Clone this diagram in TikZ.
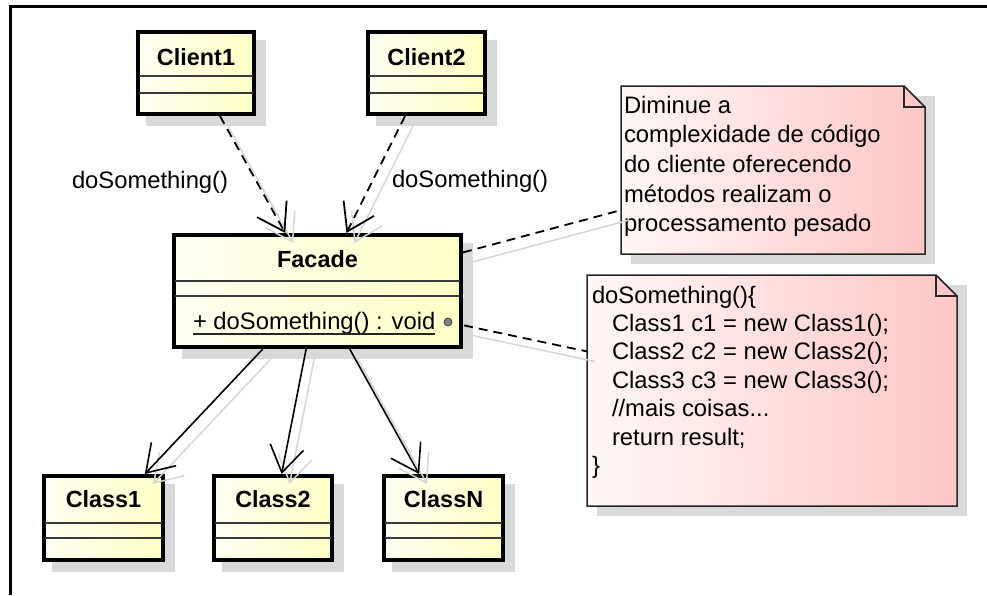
\documentclass[tikz,border=0pt]{standalone}
\usepackage{fontspec}
\setmainfont{Liberation Sans}
\usetikzlibrary{arrows.meta,calc,fit}

\definecolor{clsA}{HTML}{FFFFF2}
\definecolor{clsB}{HTML}{FFFFC6}
\definecolor{noteA}{HTML}{FFF7F7}
\definecolor{noteB}{HTML}{FFC6C6}
\definecolor{boxshade}{HTML}{D9D9D9}
\definecolor{ghost}{HTML}{D6D6D6}
\definecolor{compline}{HTML}{3A3A3A}

\tikzset{
  txt/.style={font=\fontsize{23.8}{28}\selectfont, inner sep=0pt, outer sep=0pt},
  boldtxt/.style={font=\fontsize{23.4}{28}\selectfont\bfseries, inner sep=0pt, outer sep=0pt},
  classbox/.style={draw=black, line width=4pt, inner sep=0pt, left color=clsA, right color=clsB},
  compart/.style={draw=compline, line width=1.5pt},
  notebody/.style={draw=black!85, line width=1.5pt, left color=noteA, right color=noteB},
  notefold/.style={draw=black!85, line width=1.5pt},
  plainnode/.style={inner sep=0pt, outer sep=0pt},
  barb/.style={-{Straight Barb[length=26pt,width=34pt]}},
  calls/.style={barb, draw=black, line width=1.8pt, dash pattern=on 9pt off 6pt},
  uses/.style={barb, draw=black, line width=1.6pt},
  anchorline/.style={draw=black, line width=1.8pt, dash pattern=on 9pt off 6pt},
  ghostline/.style={draw=ghost, line width=1.5pt},
  ghostbarb/.style={ghostline, -{Straight Barb[length=26pt,width=34pt]}},
  opdot/.style={circle, fill=black!50, draw=black!75, line width=0.8pt, minimum size=8pt, inner sep=0pt}
}

% class box: name, x1, y1, x2, y2, first divider, second divider, title, title baseline
\newcommand\ClassBox[9]{%
  \fill[boxshade] (#2+10,#3+10) rectangle (#4+10,#5+10);
  \node[classbox, fit={(#2+2,#3+2) (#4-2,#5-2)}] (#1) {};
  \draw[compart] (#2+3,#6) -- (#4-3,#6) (#2+3,#7) -- (#4-3,#7);
  \node[boldtxt, anchor=base] (#1-title) at ({(#2+#4)/2},#9) {#8};
}

% note with folded corner: name, x1, y1, x2, y2
\newcommand\NoteBox[5]{%
  \fill[boxshade] (#2+10,#3+10) rectangle (#4+10,#5+10);
  \node[plainnode, fit={(#2,#3) (#4,#5)}] (#1) {};
  \path[notebody] (#1.north west) -- ($(#1.north east)+(-21,0)$)
    -- ($(#1.north east)+(0,21)$) -- (#1.south east) -- (#1.south west) -- cycle;
  \draw[notefold] ($(#1.north east)+(-21,0)$) -- ($(#1.north east)+(-21,21)$)
    -- ($(#1.north east)+(0,21)$);
}

\begin{document}
\begin{tikzpicture}[x=1pt, y=-1pt]
\useasboundingbox (0,0) rectangle (987,595);

% frame edges of the diagram area
\draw[line width=3pt] (987,6.5) -- (10,6.5) -- (10,595);

% classes
\ClassBox{client1}{136}{30}{256}{116}{76}{93}{Client1}{65}
\ClassBox{client2}{366}{30}{487}{116}{76}{93}{Client2}{65}
\ClassBox{facade}{172}{233}{463}{349}{281}{296}{Facade}{267}
\ClassBox{class1}{42}{474}{165}{562}{523}{538}{Class1}{507}
\ClassBox{class2}{212}{474}{334}{562}{523}{538}{Class2}{507}
\ClassBox{classN}{382}{474}{505}{562}{523}{538}{ClassN}{507}

% static operation of the facade
\node[txt, anchor=base west] (op) at (193,329) {+ doSomething() : void};
\draw[line width=1.4pt, draw=black!85] ($(op.base west)+(0,5)$) -- ($(op.base east)+(0,5)$);
\node[opdot] (dot) at (448,322) {};

% notes
\NoteBox{note1}{621}{86}{925}{254}
\NoteBox{note2}{587}{275}{957}{506}

\foreach \line [count=\i from 0] in {Diminue a, complexidade de código,
    do cliente oferecendo, métodos realizam o, processamento pesado}
  \node[txt, anchor=base west] (note1-l\i) at (624,113+29.7*\i) {\line};

\node[txt, anchor=base west] (code0) at (592,303) {doSomething()\{};
\node[txt, anchor=base west] (code1) at (612,331.4) {Class1 c1 = new Class1();};
\node[txt, anchor=base west] (code2) at (612,359.8) {Class2 c2 = new Class2();};
\node[txt, anchor=base west] (code3) at (612,388.2) {Class3 c3 = new Class3();};
\node[txt, anchor=base west] (code4) at (612,416.6) {//mais coisas...};
\node[txt, anchor=base west] (code5) at (612,445) {return result;};
\node[txt, anchor=base west] (code6) at (592,473.4) {\}};

% connector shadows
\begin{scope}[transform canvas={shift={(8,10)}}]
  \draw[ghostbarb] (client1) -- (facade);
  \draw[ghostbarb] (client2) -- (facade);
  \draw[ghostbarb] (facade) -- (class1);
  \draw[ghostbarb] (facade) -- (class2);
  \draw[ghostbarb] (facade) -- (classN);
  \draw[ghostline] (facade) -- (note1);
  \draw[ghostline, shorten <=12pt] (dot) -- (note2);
\end{scope}

% connectors
\draw[calls] (client1) -- (facade);
\draw[calls] (client2) -- (facade);
\draw[uses] (facade) -- (class1);
\draw[uses] (facade) -- (class2);
\draw[uses] (facade) -- (classN);
\draw[anchorline] (facade) -- (note1);
\draw[anchorline, shorten <=12pt] (dot) -- (note2);

% message labels
\node[txt, anchor=base west] (msg1) at (72,188) {doSomething()};
\node[txt, anchor=base west] (msg2) at (392,187) {doSomething()};
\end{tikzpicture}
\end{document}
